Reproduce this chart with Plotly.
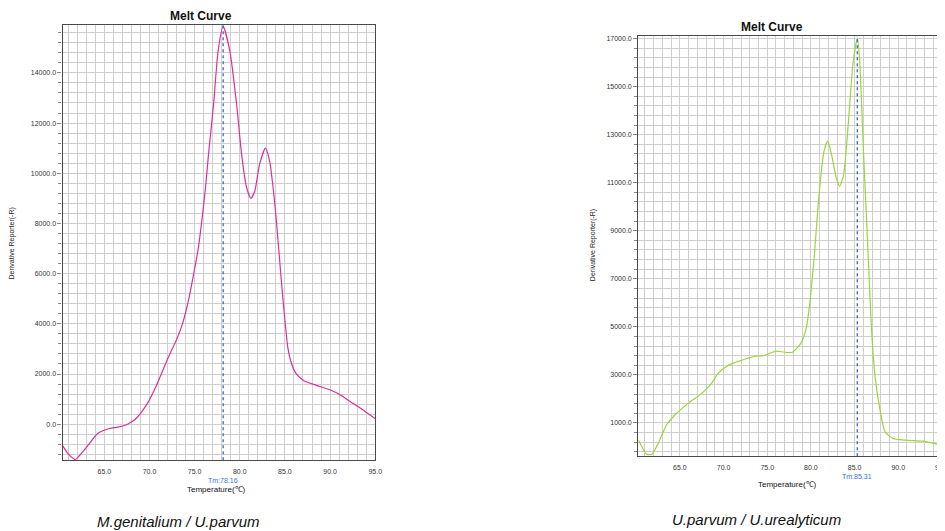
import plotly.graph_objects as go

# page has an 8px body margin; figure is sized to the remaining viewport
OFF = 8
W, H = 945 - OFF, 531 - OFF

# ---- Data: M.genitalium / U.parvum (left) ----
temp_left = [60.4, 61.0, 61.8, 62.6, 63.35, 64.26, 65.55, 66.65, 67.56, 68.4, 69.6, 70.7,
             72.1, 73.0, 73.7, 74.3, 74.9, 75.4, 75.8, 76.2, 76.54, 77.1, 77.6, 78.16, 78.9,
             79.65, 80.2, 80.75, 81.23, 81.67, 82.2, 82.84, 83.3, 83.7, 84.05, 84.6, 85.0,
             85.3, 85.7, 86.24, 87.15, 88.5, 90.1, 91.2, 92.3, 93.7, 94.97]
deriv_left = [-863, -1180, -1404, -1100, -770, -370, -171, -107, 0, 186, 728, 1484,
              2675, 3370, 4050, 4900, 6000, 7000, 8111, 9400, 10763, 12751, 14870, 15850, 14870,
              12751, 10763, 9435, 8999, 9304, 10365, 11001, 10497, 9400, 8111, 5725, 4135,
              3100, 2450, 2016, 1723, 1550, 1352, 1153, 888, 557, 226]
tm_left = 78.16

# ---- Data: U.parvum / U.urealyticum (right) ----
temp_right = [60.26, 61.2, 61.8, 62.5, 63.45, 64.4, 65.9, 67.46, 68.6, 69.35, 70.5, 72.0,
              73.5, 74.66, 76.0, 76.93, 77.9, 78.8, 79.4, 79.77, 80.34, 80.9, 81.5, 81.93,
              82.4, 82.9, 83.3, 83.75, 84.3, 84.8, 85.31, 85.57, 86.0, 86.6, 86.78, 86.97,
              87.35, 87.92, 88.49, 89.4, 90.9, 92.8, 94.5]
deriv_right = [282, -299, -299, 145, 905, 1319, 1805, 2220, 2635, 3050, 3394, 3601,
               3767, 3809, 3987, 3946, 3946, 4294, 4846, 5676, 7751, 10377, 12314, 12730,
               12107, 11207, 10862, 11348, 13559, 15911, 17015, 16185, 12452, 7614, 6091, 4709,
               2909, 1527, 627, 353, 282, 240, 116]
tm_right = 85.31

x_ticks = [65, 70, 75, 80, 85, 90, 95]
y_ticks_left = [0, 2000, 4000, 6000, 8000, 10000, 12000, 14000]
y_ticks_right = [1000, 3000, 5000, 7000, 9000, 11000, 13000, 15000, 17000]
titles = ["Melt Curve", "Melt Curve"]
captions = ["M.genitalium / U.parvum", "U.parvum / U.urealyticum"]

FONT = "Arial, Liberation Sans, sans-serif"
GRID = "#cfcfcf"
BORDER = "#4a4a4a"

fig = go.Figure()
fig.add_trace(go.Scatter(x=temp_left, y=deriv_left, mode="lines",
                         line=dict(color="#de2f96", width=1.2, shape="spline", smoothing=0.6),
                         xaxis="x", yaxis="y", showlegend=False, hoverinfo="skip"))
fig.add_trace(go.Scatter(x=temp_right, y=deriv_right, mode="lines",
                         line=dict(color="#9bd53a", width=1.2, shape="spline", smoothing=0.6),
                         xaxis="x2", yaxis="y2", showlegend=False, hoverinfo="skip"))


def xax(domain, rng, anchor, mirror):
    return dict(domain=domain, range=rng, anchor=anchor, tickvals=x_ticks,
                ticktext=[f"{v:.1f}" for v in x_ticks], tickfont=dict(size=7, color="#333", family=FONT),
                showgrid=True, gridcolor=GRID, gridwidth=1,
                minor=dict(dtick=1, tick0=60, showgrid=True, gridcolor=GRID, gridwidth=1),
                showline=True, linecolor=BORDER, linewidth=1.2, mirror=mirror,
                ticks="", ticklabelstandoff=4, zeroline=False, fixedrange=True)


def yax(domain, rng, anchor, tickvals, mirror, minor_tick0):
    return dict(domain=domain, range=rng, anchor=anchor, tickvals=tickvals,
                ticktext=[f"{v:.1f}" for v in tickvals], tickfont=dict(size=7, color="#333", family=FONT),
                showgrid=True, gridcolor=GRID, gridwidth=1,
                minor=dict(dtick=400, tick0=minor_tick0, showgrid=True, gridcolor=GRID, gridwidth=1,
                           ticks="outside", ticklen=3, tickcolor="#888"),
                ticks="outside", ticklen=4, tickcolor="#888",
                showline=True, linecolor=BORDER, linewidth=1.2, mirror=mirror,
                zeroline=False, fixedrange=True)


def px_x(p):
    return (p - OFF) / W


def px_y(p):
    return 1 - (p - OFF) / H


fig.update_layout(
    width=W, height=H,
    margin=dict(l=0, r=0, t=0, b=0),
    paper_bgcolor="white", plot_bgcolor="white",
    font=dict(family=FONT, color="#222"),
    xaxis=xax([px_x(63), px_x(378)], [60.38, 95.0], "y", True),
    yaxis=yax([px_y(460), px_y(24)], [-1431, 15908], "x", y_ticks_left, True, 0),
    xaxis2=xax([px_x(643), 1.0], [60.23, 94.55], "y2", True),
    yaxis2=yax([px_y(456), px_y(35)], [-382, 17110], "x2", y_ticks_right, False, 1000),
)

# Tm lines
for xr, yr, tm in [("x", "y", tm_left), ("x2", "y2", tm_right)]:
    fig.add_shape(type="line", xref=xr, yref=f"{yr} domain", x0=tm, x1=tm, y0=0, y1=1,
                  line=dict(color="#2f64d6", width=1.3, dash="dot"))

annos = [
    dict(x=px_x(202), y=px_y(15), text=f"<b>{titles[0]}</b>", size=12, italic=False),
    dict(x=px_x(778), y=px_y(26), text=f"<b>{titles[1]}</b>", size=12, italic=False),
    dict(x=px_x(218), y=px_y(489), text="Temperature(℃)", size=8, italic=False),
    dict(x=px_x(793), y=px_y(484), text="Temperature(℃)", size=8, italic=False),
    dict(x=px_x(180), y=px_y(521), text=captions[0], size=15, italic=True),
    dict(x=px_x(762), y=px_y(519), text=captions[1], size=15, italic=True),
]
for a in annos:
    txt = f"<i>{a['text']}</i>" if a["italic"] else a["text"]
    fig.add_annotation(x=a["x"], y=a["y"], xref="paper", yref="paper", text=txt, showarrow=False,
                       xanchor="center", yanchor="middle", font=dict(size=a["size"], color="#111", family=FONT))

# partially visible last x tick label of the right chart (cut by the image edge)
fig.add_annotation(x=px_x(949), y=px_y(467), xref="paper", yref="paper", text=f"{x_ticks[-1]:.1f}",
                   showarrow=False, xanchor="center", yanchor="middle",
                   font=dict(size=7, color="#333", family=FONT))

# Tm labels
fig.add_annotation(x=tm_left, y=px_y(480), xref="x", yref="paper", text=f"Tm:{tm_left:.2f}", showarrow=False,
                   xanchor="center", yanchor="middle", font=dict(size=7, color="#3a6fe0", family=FONT))
fig.add_annotation(x=tm_right, y=px_y(476), xref="x2", yref="paper", text=f"Tm:{tm_right:.2f}", showarrow=False,
                   xanchor="center", yanchor="middle", font=dict(size=7, color="#3a6fe0", family=FONT))

# y-axis titles
for xp, yp in [(12, 243), (597, 245)]:
    fig.add_annotation(x=px_x(xp), y=px_y(yp), xref="paper", yref="paper", text="Derivative Reporter(-R)",
                       showarrow=False, textangle=-90, xanchor="center", yanchor="middle",
                       font=dict(size=7, color="#222", family=FONT))

fig.write_html("out.html")
